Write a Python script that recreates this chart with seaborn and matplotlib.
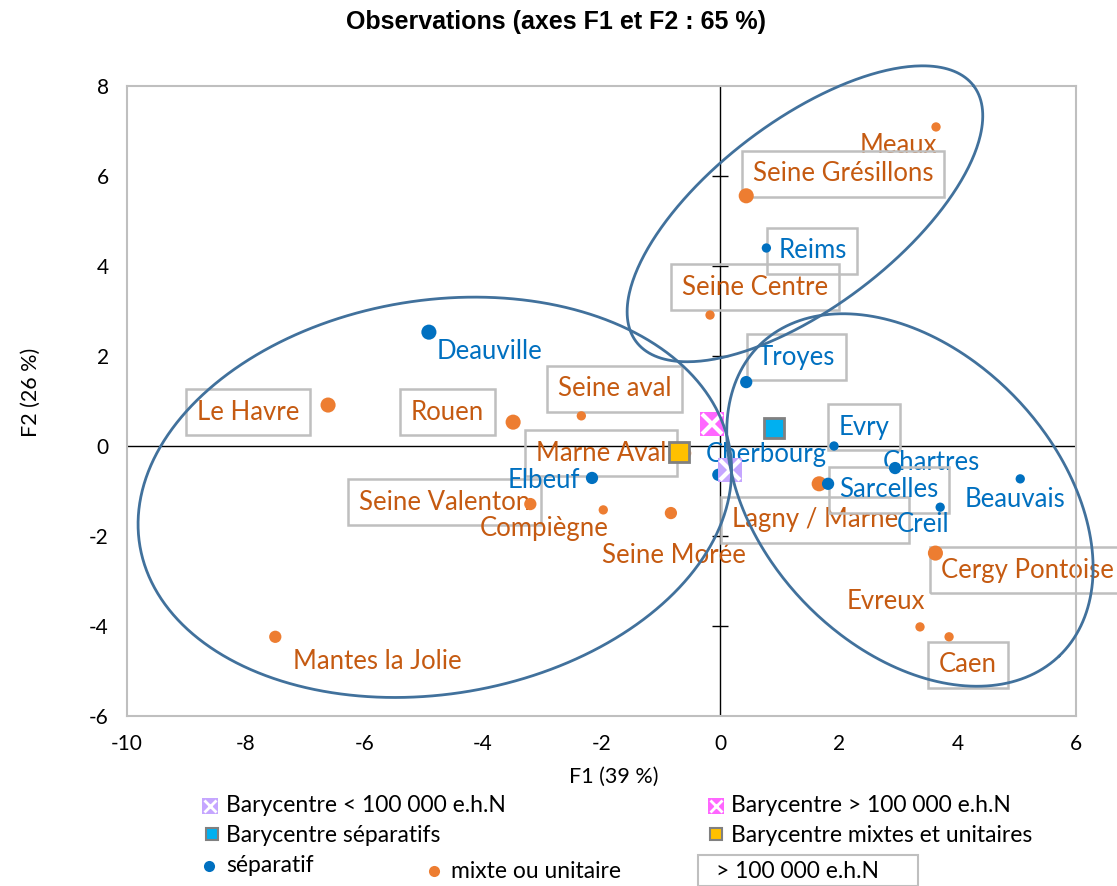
import numpy as np
import pandas as pd
import matplotlib.pyplot as plt
from matplotlib.lines import Line2D
from matplotlib.patches import Rectangle
import seaborn as sns

# Observations (F1, F2)
noms = ["Meaux", "Seine Grésillons", "Seine Centre", "Le Havre", "Rouen", "Seine aval",
        "Marne Aval", "Seine Valenton", "Compiègne", "Seine Morée", "Lagny / Marne",
        "Cergy Pontoise", "Evreux", "Caen", "Mantes la Jolie",
        "Reims", "Deauville", "Troyes", "Evry", "Elbeuf", "Cherbourg", "Chartres",
        "Sarcelles", "Beauvais", "Creil"]
f1 = [3.64, 0.44, -0.17, -6.61, -3.49, -2.34, -0.59, -3.20, -1.97, -0.83, 1.67,
      3.63, 3.37, 3.86, -7.50,
      0.78, -4.91, 0.44, 1.92, -2.16, -0.03, 2.95, 1.82, 5.06, 3.71]
f2 = [7.09, 5.56, 2.91, 0.91, 0.53, 0.67, -0.16, -1.29, -1.42, -1.49, -0.84,
      -2.38, -4.02, -4.24, -4.24,
      4.40, 2.53, 1.42, 0.00, -0.71, -0.64, -0.49, -0.84, -0.73, -1.36]
types = ["mixte ou unitaire"] * 15 + ["séparatif"] * 10
classes = ["petit", "grand", "petit", "grand", "grand", "petit", "moyen", "moyen",
           "petit", "moyen", "grand", "grand", "petit", "petit", "moyen",
           "petit", "grand", "moyen", "petit", "moyen", "moyen", "moyen", "moyen",
           "petit", "petit"]
# stations > 100 000 e.h.N (étiquette encadrée)
gros = ["Seine Grésillons", "Seine Centre", "Le Havre", "Rouen", "Seine aval",
        "Marne Aval", "Seine Valenton", "Lagny / Marne", "Cergy Pontoise", "Caen",
        "Reims", "Troyes", "Evry", "Sarcelles"]

# barycentres
bary_noms = ["Barycentre < 100 000 e.h.N", "Barycentre > 100 000 e.h.N",
             "Barycentre séparatifs", "Barycentre mixtes et unitaires"]
bary_f1 = [0.17, -0.13, 0.91, -0.69]
bary_f2 = [-0.53, 0.49, 0.40, -0.13]

# ellipses de regroupement : centre, demi-axes (unités F1), angle
ell_cx = [-4.81, 3.20, 1.43]
ell_cy = [-1.14, -1.20, 5.16]
ell_a = [5.04, 3.64, 3.57]
ell_b = [3.32, 2.48, 1.57]
ell_ang = [9.2, -46.3, 37.2]

# décalage des étiquettes (px, x vers la droite, y vers le bas)
decal = {
    "Meaux": (-38, 19), "Seine Grésillons": (97, -22), "Seine Centre": (45, -28),
    "Le Havre": (-80, 7), "Rouen": (-66, -10), "Seine aval": (33, -27),
    "Marne Aval": (-84, 0), "Seine Valenton": (-86, -2), "Compiègne": (-59, 19),
    "Seine Morée": (3, 42), "Lagny / Marne": (-4, 36), "Cergy Pontoise": (92, 17),
    "Evreux": (-34, -25), "Caen": (19, 28), "Mantes la Jolie": (102, 25),
    "Reims": (46, 3), "Deauville": (61, 19), "Troyes": (50, -25), "Evry": (30, -19),
    "Elbeuf": (-48, 3), "Cherbourg": (48, -20), "Chartres": (36, -6),
    "Sarcelles": (61, 6), "Beauvais": (-5, 21), "Creil": (-17, 17),
}

BLEU, ORANGE = "#0070C0", "#ED7D31"
TXT_BLEU, TXT_ORANGE = "#0070C0", "#C55A11"
GRIS = "#BFBFBF"

sns.set_style("white")
plt.rcParams["font.family"] = ["Lato", "DejaVu Sans"]
plt.rcParams["axes.unicode_minus"] = False
plt.rcParams["text.color"] = "black"
plt.rcParams["axes.labelcolor"] = "black"
plt.rcParams["xtick.color"] = "black"
plt.rcParams["ytick.color"] = "black"

df = pd.DataFrame({"nom": noms, "F1": f1, "F2": f2, "type": types, "classe": classes})

fig = plt.figure(figsize=(11.17, 8.86), dpi=100)
ax = fig.add_axes([127 / 1117, 1 - 716 / 886, 949 / 1117, 630 / 886])

sns.scatterplot(data=df, x="F1", y="F2", hue="type",
                palette={"séparatif": BLEU, "mixte ou unitaire": ORANGE},
                size="classe", sizes={"petit": 45, "moyen": 78, "grand": 118},
                linewidth=0, legend=False, ax=ax, zorder=3)

ax.set_xlim(-10, 6)
ax.set_ylim(-6, 8)
xt = list(range(-10, 7, 2))
yt = list(range(-6, 9, 2))
ax.set_xticks(xt)
ax.set_yticks(yt)
ax.tick_params(length=0, labelsize=15, pad=13)
for s in ax.spines.values():
    s.set_color(GRIS)
    s.set_linewidth(1.5)
ax.set_xlabel("F1 (39 %)", fontsize=15.5)
ax.xaxis.set_label_coords((614 - 127) / 949, -(767 - 716) / 630)
ax.set_ylabel("F2 (26 %)", fontsize=15.5)
ax.yaxis.set_label_coords(-86 / 949, (716 - 392) / 630)

# axes passant par l'origine
ax.axhline(0, color="black", lw=1, zorder=1)
ax.axvline(0, color="black", lw=1, zorder=1)
ycroix = [y for y in yt if y not in (-6, 0, 8)]
ax.plot([0] * len(ycroix), ycroix, ls="", marker="_",
        ms=11, mew=1, color="black", zorder=1)

# étiquettes
for nom, x, y, t in zip(noms, f1, f2, types):
    dx, dy = decal[nom]
    kw = {}
    if nom in gros:
        kw["bbox"] = dict(boxstyle="square,pad=0.42", fc="none", ec=GRIS, lw=1.8)
    ax.annotate(nom, xy=(x, y), xytext=(dx * 0.72, -dy * 0.72),
                textcoords="offset points", ha="center", va="center",
                fontsize=18.5, color=TXT_BLEU if t == "séparatif" else TXT_ORANGE,
                zorder=2, annotation_clip=False, **kw)

# barycentres
ax.plot(bary_f1[0], bary_f2[0], marker="s", ms=17, color="#C5A6FF", mew=0, zorder=4)
ax.plot(bary_f1[0], bary_f2[0], marker="x", ms=15, color="white", mew=3, zorder=4)
ax.plot(bary_f1[1], bary_f2[1], marker="s", ms=17, color="#FF66FF", mew=0, zorder=4)
ax.plot(bary_f1[1], bary_f2[1], marker="x", ms=15, color="white", mew=3, zorder=4)
ax.plot(bary_f1[2], bary_f2[2], marker="s", ms=15, color="#00B0F0", mec="#808080",
        mew=2, zorder=4)
ax.plot(bary_f1[3], bary_f2[3], marker="s", ms=15, color="#FFC000", mec="#808080",
        mew=2, zorder=4)

# ellipses
bb = ax.get_window_extent()
ratio = (bb.width / 16) / (bb.height / 14)
t = np.linspace(0, 2 * np.pi, 400)
for cx, cy, a, b, ang in zip(ell_cx, ell_cy, ell_a, ell_b, ell_ang):
    th = np.radians(ang)
    ex = cx + a * np.cos(t) * np.cos(th) - b * np.sin(t) * np.sin(th)
    ey = cy + (a * np.cos(t) * np.sin(th) + b * np.sin(t) * np.cos(th)) * ratio
    ax.plot(ex, ey, color="#41719C", lw=2, zorder=5, clip_on=False)

fig.suptitle("Observations (axes F1 et F2 : 65 %)", x=0.498, y=1 - 22 / 886,
             va="center", fontsize=18, fontweight="bold", family="Liberation Sans",
             color="black")

# légende manuelle sous le graphique
def fx(px):
    return px / 1117


def fy(py):
    return 1 - py / 886


def marque(px, py, **kw):
    fig.add_artist(Line2D([fx(px)], [fy(py)], transform=fig.transFigure, ls="", **kw))


marque(210, 806, marker="s", ms=11, color="#C5A6FF", mew=0)
marque(210, 806, marker="x", ms=9, color="white", mew=2)
marque(716, 806, marker="s", ms=11, color="#FF66FF", mew=0)
marque(716, 806, marker="x", ms=9, color="white", mew=2)
marque(212, 834, marker="s", ms=9, color="#00B0F0", mec="#808080", mew=1.5)
marque(716, 834, marker="s", ms=9, color="#FFC000", mec="#808080", mew=1.5)
marque(209, 866, marker="o", ms=8, color=BLEU, mew=0)
marque(434, 871, marker="o", ms=8, color=ORANGE, mew=0)

leg = [(226, 806, bary_noms[0]), (731, 806, bary_noms[1]),
       (226, 835, bary_noms[2]), (731, 835, bary_noms[3]),
       (226, 866, "séparatif"), (451, 871, "mixte ou unitaire"),
       (716, 871, "> 100 000 e.h.N")]
for px, py, txt in leg:
    fig.text(fx(px), fy(py), txt, fontsize=16.5, va="center", ha="left")
fig.add_artist(Rectangle((fx(698), fy(886)), fx(918) - fx(698), fy(855) - fy(886),
                         transform=fig.transFigure, fc="none", ec=GRIS, lw=1.5))

fig.savefig("out.png", dpi=100)
